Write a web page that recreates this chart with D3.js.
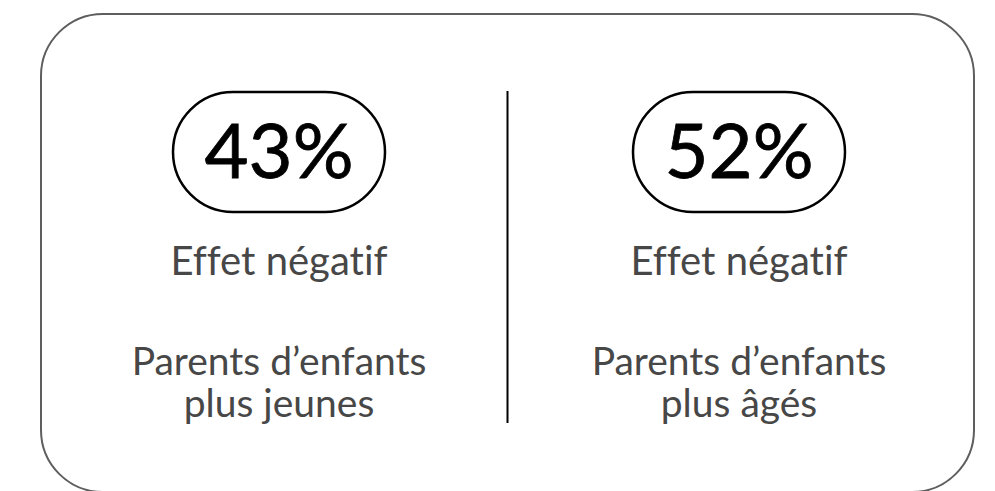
<!DOCTYPE html>
<html>
<head>
<meta charset="utf-8">
<script src="https://cdn.jsdelivr.net/npm/d3@7"></script>
<style>
  html, body { margin: 0; padding: 0; background: #fff; }
  svg { display: block; }
  text { font-variant-ligatures: none; }
</style>
</head>
<body>
<div class="chart"></div>
<script>
var svgWidth = 995;
var svgHeight = 491;

// data
var groups = ["jeunes", "ages"];
var values = [43, 52];
var effectLabels = ["Effet négatif", "Effet négatif"];
var groupLines = [
    ["Parents d’enfants", "plus jeunes"],
    ["Parents d’enfants", "plus âgés"]
];

var svg = d3.select(".chart")
    .append("svg")
    .attr("width", svgWidth)
    .attr("height", svgHeight);

// outer card
svg.append("rect")
    .attr("x", 41)
    .attr("y", 14)
    .attr("width", 933)
    .attr("height", 478)
    .attr("rx", 62)
    .attr("fill", "none")
    .attr("stroke", "#5e5e5e")
    .attr("stroke-width", 2);

// divider
svg.append("line")
    .attr("x1", 507.5).attr("x2", 507.5)
    .attr("y1", 91).attr("y2", 423)
    .attr("stroke", "#000")
    .attr("stroke-width", 2);

var xScale = d3.scalePoint()
    .domain(groups)
    .range([279, 739]);

var cols = svg.selectAll(".col")
    .data(groups)
    .enter()
    .append("g")
    .attr("class", "col")
    .attr("transform", d => `translate(${xScale(d)}, 0)`);

// pill around the number
var pillW = 212, pillH = 120, pillTop = 92;
cols.append("rect")
    .attr("x", -pillW / 2)
    .attr("y", pillTop)
    .attr("width", pillW)
    .attr("height", pillH)
    .attr("rx", pillH / 2)
    .attr("fill", "none")
    .attr("stroke", "#000")
    .attr("stroke-width", 2.5);

// big number, slight stroke to get a medium weight
cols.append("text")
    .attr("x", 0)
    .attr("y", 178)
    .attr("text-anchor", "middle")
    .attr("font-family", "Lato, sans-serif")
    .attr("font-size", "76px")
    .attr("fill", "#000")
    .attr("stroke", "#000")
    .attr("stroke-width", 0.8)
    .text((d, i) => values[i] + "%");

cols.append("text")
    .attr("x", 0)
    .attr("y", 275)
    .attr("text-anchor", "middle")
    .attr("font-family", "Lato, sans-serif")
    .attr("font-size", "40px")
    .attr("fill", "#474747")
    .text((d, i) => effectLabels[i]);

cols.each(function(d, i) {
    d3.select(this).selectAll(".sub")
        .data(groupLines[i])
        .enter()
        .append("text")
        .attr("class", "sub")
        .attr("x", 0)
        .attr("y", (t, j) => 375 + j * 42)
        .attr("text-anchor", "middle")
        .attr("font-family", "Lato, sans-serif")
        .attr("font-size", "39px")
        .attr("fill", "#474747")
        .text(t => t);
});
</script>
</body>
</html>
